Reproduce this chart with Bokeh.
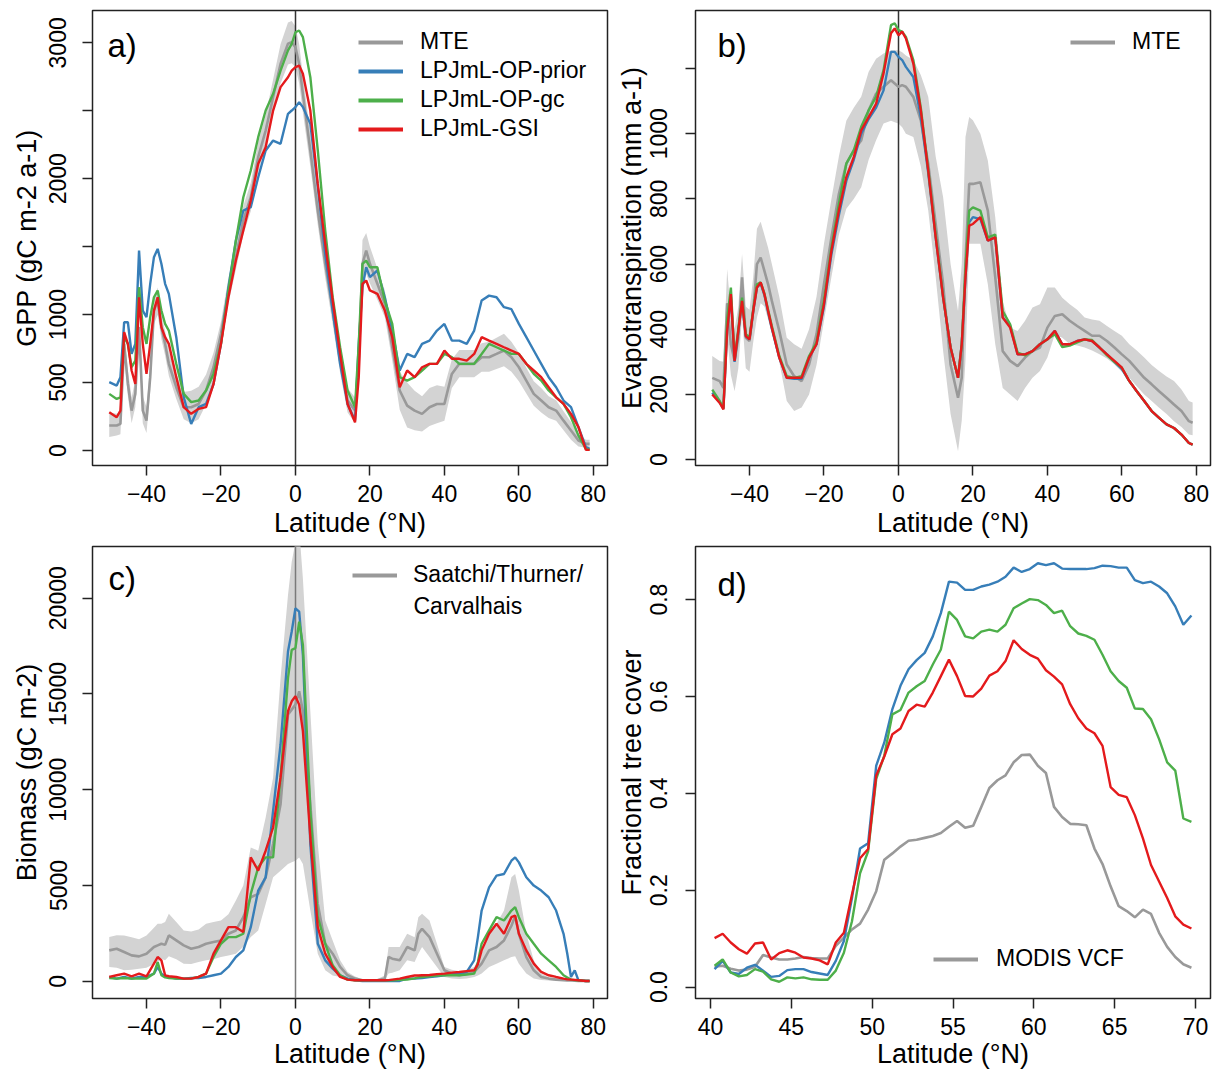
from bokeh.plotting import figure
from bokeh.models import (Range1d, FixedTicker, Legend, LegendItem, Label,
                          ColumnDataSource, PrintfTickFormatter)
from bokeh.layouts import column, row
from bokeh.embed import file_html
from bokeh.resources import INLINE

FONT = "Liberation Sans"
GRAY = "#999999"
BAND = "#d3d3d3"
BLUE = "#377eb8"
GREEN = "#4daf4a"
RED = "#e41a1c"

# ---------------- data: panels a and b (latitude grid) ----------------
LAT_AB = [-50, -48, -47, -46, -45, -44, -43, -42, -41, -40, -39, -38, -37, -36, -35, -34,
          -32, -30, -28, -26, -24, -22, -20, -18, -16, -14, -12, -10, -8, -6, -4, -2, -1,
          0, 1, 2, 4, 6, 8, 10, 12, 14, 16,
          17, 18, 19, 20,
          22, 24, 26, 28, 30, 32, 34, 36, 38, 40, 42, 44, 46, 48, 50, 52, 54, 56, 58, 60,
          62, 64, 66, 68, 70, 72, 74, 76, 78, 79]

GPP_MTE = [184, 184, 196, 785, 490, 294, 417, 908, 294, 220, 540, 1030, 1104, 908, 785, 638,
           466, 319, 319, 343, 442, 613, 858, 1177, 1423, 1693, 1864, 2159, 2355, 2600, 2845, 2993, 3005,
           2968, 2845, 2625, 2208, 1766, 1374, 1030, 662, 368, 294,
           662, 1374, 1472, 1374,
           1227, 1080, 760, 442, 331, 294, 270, 319, 343, 343, 564, 638, 638, 638, 687, 687, 711, 736, 687, 613,
           515, 417, 368, 319, 294, 220, 147, 74, 49, 49]
GPP_LO = [100, 110, 120, 700, 400, 200, 320, 800, 200, 130, 440, 930, 1000, 820, 700, 550,
          380, 230, 200, 230, 340, 520, 770, 1080, 1330, 1590, 1760, 2050, 2240, 2470, 2700, 2840, 2850,
          2820, 2700, 2490, 2090, 1660, 1270, 930, 570, 280, 200,
          560, 1220, 1300, 1230,
          1110, 980, 660, 300, 170, 150, 140, 180, 200, 220, 460, 540, 540, 540, 580, 580, 600, 620, 580, 510,
          420, 330, 280, 240, 220, 150, 80, 30, 20, 20]
GPP_HI = [280, 270, 290, 880, 590, 390, 520, 1010, 400, 320, 640, 1120, 1200, 1000, 880, 730,
          560, 430, 440, 470, 560, 720, 950, 1270, 1520, 1800, 1970, 2270, 2470, 2730, 2990, 3150, 3160,
          3120, 2990, 2760, 2330, 1870, 1480, 1130, 760, 460, 390,
          770, 1550, 1600, 1500,
          1340, 1180, 860, 580, 500, 440, 400, 460, 480, 470, 670, 740, 740, 740, 790, 800, 830, 860, 800, 720,
          610, 510, 460, 400, 370, 290, 210, 120, 80, 80]
GPP_PRIOR = [503, 478, 540, 944, 944, 711, 785, 1472, 1030, 981, 1227, 1423, 1484, 1374, 1227, 1153,
             834, 392, 196, 319, 343, 490, 785, 1202, 1545, 1766, 1791, 2011, 2208, 2281, 2257, 2478, 2502,
             2527, 2564, 2527, 2404, 1938, 1447, 1030, 638, 343, 221,
             785, 1202, 1349, 1276,
             1325, 1128, 883, 589, 711, 687, 785, 809, 883, 932, 809, 809, 785, 883, 1104, 1140, 1128, 1055, 1040, 932,
             834, 736, 638, 540, 466, 368, 319, 172, 25, 12]
GPP_GC = [417, 380, 392, 834, 785, 613, 662, 1202, 908, 785, 981, 1128, 1177, 1030, 932, 883,
          638, 417, 356, 368, 442, 564, 785, 1177, 1545, 1864, 2061, 2306, 2502, 2625, 2796, 2944, 2993,
          3078, 3091, 3042, 2747, 2208, 1619, 1128, 760, 442, 319,
          785, 1374, 1398, 1349,
          1349, 1104, 932, 540, 515, 540, 589, 638, 638, 711, 687, 638, 638, 638, 711, 785, 760, 736, 711, 711,
          638, 564, 515, 442, 392, 343, 245, 110, 12, 5]
GPP_GSI = [282, 245, 294, 871, 785, 589, 490, 1128, 785, 564, 785, 1030, 1128, 908, 834, 785,
           540, 319, 270, 307, 319, 490, 785, 1128, 1398, 1619, 1840, 2110, 2232, 2502, 2674, 2747, 2796,
           2821, 2833, 2772, 2502, 1962, 1521, 1104, 711, 343, 208,
           540, 1227, 1251, 1178,
           1153, 1030, 834, 466, 589, 540, 613, 638, 638, 736, 675, 675, 662, 711, 834, 809, 785, 760, 736, 711,
           638, 589, 540, 466, 392, 343, 270, 172, 5, 5]

ET_MTE = [251, 241, 220, 480, 354, 303, 374, 559, 374, 364, 456, 600, 620, 579, 538, 487,
          395, 292, 256, 241, 292, 385, 538, 682, 815, 908, 949, 979, 1072, 1123, 1144, 1164, 1154,
          1144, 1149, 1144, 1113, 1041, 908, 723, 538, 292, 190,
          251, 610, 846, 846,
          851, 764, 559, 333, 303, 287, 313, 333, 344, 405, 441, 446, 426, 410, 395, 380, 380, 364, 344, 323,
          303, 277, 251, 231, 210, 190, 169, 149, 118, 113]
ET_LO = [200, 180, 170, 380, 260, 210, 280, 440, 280, 270, 360, 436, 480, 470, 430, 390,
         300, 180, 149, 160, 200, 290, 426, 560, 690, 770, 800, 836, 920, 980, 1031, 1040, 1035,
         1031, 1020, 1000, 990, 900, 764, 560, 333, 140, 26,
         120, 303, 662, 662,
         662, 538, 354, 220, 200, 180, 220, 251, 272, 313, 385, 374, 354, 350, 344, 335, 323, 310, 292, 270,
         251, 225, 200, 180, 159, 140, 118, 100, 77, 75]
ET_HI = [318, 303, 300, 585, 450, 400, 470, 631, 470, 460, 560, 708, 730, 690, 650, 600,
         500, 374, 354, 340, 400, 500, 662, 800, 930, 1040, 1080, 1113, 1190, 1230, 1246, 1256, 1256,
         1256, 1250, 1240, 1226, 1180, 1113, 930, 805, 600, 456,
         600, 990, 1051, 1041,
         1000, 918, 744, 487, 405, 395, 426, 467, 477, 528, 528, 497, 477, 460, 436, 430, 426, 410, 395, 380,
         354, 335, 313, 290, 272, 255, 241, 215, 180, 175]
ET_PRIOR = [205, 176, 156, 400, 500, 300, 392, 485, 379, 369, 456, 528, 540, 505, 452, 402,
            313, 251, 248, 248, 313, 354, 470, 630, 750, 855, 920, 1000, 1045, 1080, 1133, 1251, 1251,
            1236, 1226, 1205, 1174, 1051, 880, 682, 497, 344, 251,
            354, 559, 728, 744,
            738, 672, 682, 436, 410, 323, 323, 333, 354, 369, 395, 354, 354, 364, 369, 364, 344, 323, 300, 278,
            241, 210, 180, 149, 128, 108, 97, 77, 51, 46]
ET_GC = [215, 180, 158, 430, 528, 310, 400, 497, 385, 374, 460, 538, 544, 510, 460, 410,
         318, 256, 251, 256, 318, 360, 490, 651, 784, 908, 949, 1021, 1072, 1113, 1195, 1333, 1339,
         1318, 1313, 1297, 1226, 1080, 890, 690, 500, 344, 251,
         354, 590, 764, 774,
         764, 682, 690, 456, 415, 328, 320, 333, 354, 369, 385, 345, 350, 360, 369, 367, 344, 320, 300, 282,
         241, 210, 180, 149, 128, 108, 97, 77, 51, 46]
ET_GSI = [200, 174, 154, 395, 508, 303, 395, 487, 379, 369, 456, 528, 544, 508, 456, 405,
          313, 251, 251, 251, 313, 354, 477, 641, 764, 867, 928, 1010, 1051, 1092, 1185, 1308, 1323,
          1302, 1313, 1292, 1215, 1072, 887, 682, 497, 344, 251,
          354, 559, 718, 723,
          744, 672, 682, 436, 405, 323, 323, 333, 354, 369, 395, 354, 354, 364, 369, 364, 344, 323, 303, 282,
          241, 210, 180, 149, 128, 108, 97, 77, 51, 46]

# ---------------- data: panel c ----------------
LAT_C = [-50, -48, -46, -44, -42, -40, -38, -37, -36, -35, -34,
         -32, -30, -28, -26, -24, -22, -20, -18, -16, -14, -12, -10, -8, -6, -4, -2,
         -1, 0, 1, 2,
         4, 6, 8, 10, 12, 14, 16, 18, 20, 22, 24,
         25, 26, 28, 30, 32, 33,
         34, 36, 38, 40, 42, 44, 46, 48, 49,
         50, 52, 54, 56, 58, 59,
         60, 62, 64, 66, 68, 70, 72, 73, 74, 75, 76, 78, 79]
BIO_OBS = [1613, 1700, 1526, 1350, 1300, 1439, 1786, 1873, 1959, 1900, 2393,
           2133, 1873, 1700, 1786, 1959, 2046, 2133, 2480, 2653, 3347, 4387, 4560, 5427, 7161, 9242, 13924,
           14184, 14444, 15138, 14097,
           9242, 4040, 1959, 1439, 746, 312, 139, 52, 52, 52, 139,
           1266, 1179, 1092, 1786, 1613, 2480,
           2740, 2306, 1439, 572, 399, 312, 399, 486, 700,
           919, 1613, 1786, 2133, 2900, 3400,
           2480, 1266, 572, 225, 139, 87, 52, 40, 40, 30, 20, 20, 20]
BIO_LO = [745, 700, 572, 600, 650, 700, 900, 1000, 1179, 1100, 1300,
          1150, 919, 900, 1000, 1092, 1150, 1266, 1350, 1439, 1800, 2306, 2653, 4040, 5427, 5774, 6121,
          6208, 6294, 6468, 6121,
          3693, 1439, 572, 300, 225, 100, 40, 20, 20, 20, 60,
          399, 450, 572, 1092, 1000, 1439,
          1786, 1266, 746, 225, 150, 120, 150, 225, 300,
          399, 746, 919, 1092, 1266, 1300,
          919, 399, 139, 60, 40, 30, 20, 15, 15, 10, 5, 5, 5]
BIO_HI = [2306, 2400, 2393, 2300, 2200, 2393, 2800, 3000, 3000, 3100, 3520,
          3100, 2653, 2600, 2700, 3000, 3100, 3173, 3500, 4214, 5000, 6988, 6815, 8549, 10629, 15831, 20167,
          21901, 22941, 23634, 21034,
          14097, 7161, 3173, 2133, 1092, 486, 250, 100, 100, 120, 300,
          1786, 1786, 1786, 2480, 2300, 3347,
          3520, 3173, 1959, 746, 600, 520, 600, 746, 1100,
          1439, 2480, 3000, 3693, 5427, 5600,
          4734, 2480, 1092, 399, 200, 150, 100, 80, 80, 60, 50, 40, 40]
BIO_PRIOR = [225, 139, 225, 139, 225, 225, 400, 746, 399, 250, 225,
             139, 139, 173, 173, 225, 312, 399, 746, 1266, 1613, 2826, 4734, 5427, 8895, 12363, 17218,
             18259, 19473, 19300, 17045,
             7161, 1959, 1092, 659, 312, 139, 52, 17, 17, 17, 17,
             17, 17, 17, 139, 139, 150,
             173, 225, 260, 312, 399, 399, 486, 1092, 2306,
             3693, 4907, 5514, 5600, 6294, 6468,
             6208, 5427, 4994, 4734, 4387, 3693, 2480, 1439, 225, 572, 50, 17, 17]
BIO_GC = [173, 139, 173, 139, 150, 139, 399, 1006, 312, 200, 173,
          139, 139, 150, 225, 399, 1266, 1959, 2306, 2306, 2480, 4560, 5948, 6468, 6468, 10629, 15831,
          17305, 17392, 18779, 17565,
          8896, 3347, 1959, 832, 312, 87, 52, 52, 52, 52, 52,
          52, 52, 70, 87, 150, 200,
          225, 260, 295, 312, 312, 312, 350, 399, 1000,
          1959, 2653, 3347, 3173, 3693, 3867,
          3347, 2480, 1959, 1439, 1092, 746, 312, 200, 87, 60, 52, 17, 17]
BIO_GSI = [225, 312, 399, 260, 399, 260, 919, 1266, 1092, 312, 260,
           225, 139, 139, 225, 399, 1439, 2133, 2826, 2826, 2566, 6468, 5774, 6815, 8028, 10629, 14097,
           14617, 14878, 14444, 13057,
           7508, 2826, 1439, 746, 225, 87, 52, 52, 52, 52, 52,
           60, 87, 139, 225, 300, 300,
           312, 330, 370, 399, 450, 486, 530, 572, 900,
           1613, 2480, 3000, 2480, 3347, 3433,
           2480, 1613, 919, 486, 312, 225, 139, 100, 87, 70, 52, 17, 17]

# ---------------- data: panel d ----------------
LAT_D = [40.25, 40.75, 41.25, 41.75, 42.25, 42.75, 43.25, 43.75, 44.25, 44.75,
         45.25, 45.75, 46.25, 46.75, 47.25, 47.75, 48.25, 48.75, 49.25, 49.75,
         50.25, 50.75, 51.25, 51.75, 52.25, 52.75, 53.25, 53.75, 54.25, 54.75,
         55.25, 55.75, 56.25, 56.75, 57.25, 57.75, 58.25, 58.75, 59.25, 59.75,
         60.25, 60.75, 61.25, 61.75, 62.25, 62.75, 63.25, 63.75, 64.25, 64.75,
         65.25, 65.75, 66.25, 66.75, 67.25, 67.75, 68.25, 68.75, 69.25, 69.75]
TC_MODIS = [0.042, 0.044, 0.038, 0.034, 0.036, 0.042, 0.066, 0.061, 0.057, 0.057,
            0.059, 0.062, 0.060, 0.059, 0.059, 0.085, 0.102, 0.119, 0.131, 0.160,
            0.198, 0.263, 0.276, 0.290, 0.302, 0.304, 0.308, 0.312, 0.318, 0.331,
            0.343, 0.329, 0.333, 0.372, 0.411, 0.427, 0.437, 0.464, 0.479, 0.480,
            0.457, 0.442, 0.372, 0.351, 0.337, 0.336, 0.334, 0.286, 0.254, 0.208,
            0.167, 0.157, 0.144, 0.160, 0.151, 0.112, 0.083, 0.062, 0.047, 0.040]
TC_PRIOR = [0.037, 0.054, 0.030, 0.027, 0.040, 0.046, 0.034, 0.021, 0.023, 0.035,
            0.037, 0.037, 0.031, 0.028, 0.025, 0.054, 0.095, 0.184, 0.286, 0.297,
            0.457, 0.505, 0.574, 0.622, 0.656, 0.675, 0.690, 0.724, 0.772, 0.837,
            0.835, 0.820, 0.820, 0.827, 0.831, 0.837, 0.847, 0.866, 0.857, 0.863,
            0.875, 0.871, 0.875, 0.864, 0.863, 0.863, 0.863, 0.865, 0.870, 0.869,
            0.866, 0.866, 0.840, 0.834, 0.837, 0.827, 0.813, 0.786, 0.748, 0.767]
TC_GC = [0.044, 0.057, 0.030, 0.022, 0.025, 0.037, 0.032, 0.016, 0.011, 0.020,
         0.018, 0.020, 0.016, 0.015, 0.015, 0.034, 0.071, 0.136, 0.235, 0.280,
         0.430, 0.478, 0.563, 0.572, 0.608, 0.621, 0.632, 0.666, 0.697, 0.775,
         0.758, 0.724, 0.720, 0.734, 0.738, 0.734, 0.748, 0.782, 0.792, 0.801,
         0.799, 0.789, 0.772, 0.777, 0.745, 0.730, 0.725, 0.717, 0.686, 0.652,
         0.632, 0.618, 0.575, 0.574, 0.553, 0.512, 0.464, 0.447, 0.348, 0.341]
TC_GSI = [0.101, 0.110, 0.092, 0.078, 0.069, 0.090, 0.092, 0.057, 0.070, 0.076,
          0.071, 0.061, 0.059, 0.055, 0.047, 0.092, 0.112, 0.191, 0.266, 0.285,
          0.437, 0.476, 0.522, 0.534, 0.570, 0.583, 0.579, 0.608, 0.642, 0.676,
          0.642, 0.601, 0.600, 0.616, 0.643, 0.652, 0.673, 0.716, 0.698, 0.686,
          0.678, 0.654, 0.641, 0.625, 0.584, 0.555, 0.534, 0.524, 0.498, 0.413,
          0.397, 0.392, 0.355, 0.307, 0.252, 0.218, 0.184, 0.146, 0.129, 0.121]

X_TICKS_WIDE = [-40, -20, 0, 20, 40, 60, 80]
X_TICKS_D = [40, 45, 50, 55, 60, 65, 70]
Y_TICKS_A = [0, 500, 1000, 1500, 2000, 2500, 3000]
Y_TICKS_B = [0, 200, 400, 600, 800, 1000, 1200]
Y_TICKS_C = [0, 5000, 10000, 15000, 20000]
Y_TICKS_D = [0.0, 0.2, 0.4, 0.6, 0.8]
MINUS_LABELS = {-40: "\u221240", -20: "\u221220"}


def base_fig(xr, yr, fh, bl, br, bt, bb, xticks, yticks, xlab, ylab,
             x_std, x_lstd, y_std, y_lstd):
    p = figure(frame_width=515, frame_height=fh,
               x_range=Range1d(*xr), y_range=Range1d(*yr),
               output_backend="svg", toolbar_location=None,
               min_border_left=bl, min_border_right=br,
               min_border_top=bt, min_border_bottom=bb)
    p.xgrid.visible = False
    p.ygrid.visible = False
    p.outline_line_color = "#222222"
    p.outline_line_width = 1.5
    p.background_fill_color = "white"
    p.border_fill_color = "white"
    p.xaxis.ticker = FixedTicker(ticks=xticks)
    p.yaxis.ticker = FixedTicker(ticks=yticks)
    for ax in (p.xaxis[0], p.yaxis[0]):
        ax.axis_line_color = None
        ax.major_tick_out = 10
        ax.major_tick_in = 0
        ax.minor_tick_line_color = None
        ax.major_tick_line_color = "#222222"
        ax.major_tick_line_width = 1.5
        ax.major_label_text_font = FONT
        ax.major_label_text_font_size = "23px"
        ax.major_label_text_color = "black"
        ax.axis_label_text_font = FONT
        ax.axis_label_text_font_size = "27px"
        ax.axis_label_text_font_style = "normal"
        ax.axis_label_text_color = "black"
    p.xaxis.axis_label = xlab
    p.yaxis.axis_label = ylab
    p.xaxis.major_label_standoff = x_std
    p.xaxis.axis_label_standoff = x_lstd
    p.yaxis.major_label_standoff = y_std
    p.yaxis.axis_label_standoff = y_lstd
    p.yaxis.major_label_orientation = "vertical"
    return p


def add_legend(p, items, loc, std):
    # legend keys: one-point lines taken from each series (draw nothing in the
    # plot) so the key can be thicker than the curve itself, as in the original
    entries = []
    for label, xs, ys, color in items:
        key = p.line(x=xs[:1], y=ys[:1], line_color=color, line_width=4)
        entries.append(LegendItem(label=label, renderers=[key]))
    leg = Legend(items=entries,
                 location=loc, orientation="vertical",
                 border_line_color=None, background_fill_alpha=0,
                 label_text_font=FONT, label_text_font_size="23px",
                 label_text_color="black",
                 glyph_width=45, glyph_height=24, label_height=24,
                 label_standoff=std, padding=0, spacing=2, margin=0)
    p.add_layout(leg)


def add_tag(p, text, x, y):
    p.add_layout(Label(x=x, y=y, x_units="screen", y_units="screen", text=text,
                       text_font=FONT, text_font_size="33px", text_color="black",
                       text_baseline="middle", text_align="left"))


def draw_series(p, src, lo, hi, obs, prior, gc, gsi, vcolor):
    if lo is not None:
        p.varea(x="lat", y1=lo, y2=hi, source=src, fill_color=BAND, fill_alpha=1)
    if vcolor is not None:
        p.vspan(x=[0], line_color=vcolor, line_width=1.5)
    p.line("lat", obs, source=src, line_color=GRAY, line_width=2.6)
    p.line("lat", prior, source=src, line_color=BLUE, line_width=2.4)
    p.line("lat", gc, source=src, line_color=GREEN, line_width=2.4)
    p.line("lat", gsi, source=src, line_color=RED, line_width=2.4)


XR = (-54.5, 83.8)

# ---- panel a ----
src_a = ColumnDataSource(dict(lat=LAT_AB, obs=GPP_MTE, lo=GPP_LO, hi=GPP_HI,
                              prior=GPP_PRIOR, gc=GPP_GC, gsi=GPP_GSI))
pa = base_fig(XR, (-110, 3238), 455, 92, 2, 10, 78, X_TICKS_WIDE, Y_TICKS_A,
              "Latitude (\u00b0N)", "GPP (gC m-2 a-1)", 9, 3, 16, 5)
pa.yaxis.major_label_overrides = {1500: "", 2500: ""}
pa.xaxis.major_label_overrides = MINUS_LABELS
draw_series(pa, src_a, "lo", "hi", "obs", "prior", "gc", "gsi", "#333333")
add_legend(pa, [("MTE", LAT_AB, GPP_MTE, GRAY),
                ("LPJmL-OP-prior", LAT_AB, GPP_PRIOR, BLUE),
                ("LPJmL-OP-gc", LAT_AB, GPP_GC, GREEN),
                ("LPJmL-GSI", LAT_AB, GPP_GSI, RED)], (266, 323), 17)
add_tag(pa, "a)", 15, 420)

# ---- panel b ----
src_b = ColumnDataSource(dict(lat=LAT_AB, obs=ET_MTE, lo=ET_LO, hi=ET_HI,
                              prior=ET_PRIOR, gc=ET_GC, gsi=ET_GSI))
pb = base_fig(XR, (-18, 1378), 455, 86, 2, 10, 78, X_TICKS_WIDE, Y_TICKS_B,
              "Latitude (\u00b0N)", "Evapotranspiration (mm a-1)", 9, 3, 18, 1)
pb.yaxis.major_label_overrides = {1200: ""}
pb.xaxis.major_label_overrides = MINUS_LABELS
draw_series(pb, src_b, "lo", "hi", "obs", "prior", "gc", "gsi", "#333333")
add_legend(pb, [("MTE", LAT_AB, ET_MTE, GRAY)], (375, 410), 17)
add_tag(pb, "b)", 22, 420)

# ---- panel c ----
src_c = ColumnDataSource(dict(lat=LAT_C, obs=BIO_OBS, lo=BIO_LO, hi=BIO_HI,
                              prior=BIO_PRIOR, gc=BIO_GC, gsi=BIO_GSI))
pc = base_fig(XR, (-900, 22700), 452, 92, 2, 3, 76, X_TICKS_WIDE, Y_TICKS_C,
              "Latitude (\u00b0N)", "Biomass (gC m-2)", 9, 1, 16, 5)
pc.xaxis.major_label_overrides = MINUS_LABELS
draw_series(pc, src_c, "lo", "hi", "obs", "prior", "gc", "gsi", "#7a7a7a")
add_legend(pc, [("Saatchi/Thurner/", LAT_C, BIO_OBS, GRAY)], (260, 410), 16)
pc.add_layout(Label(x=321, y=393, x_units="screen", y_units="screen", text="Carvalhais",
                    text_font=FONT, text_font_size="23px", text_color="black",
                    text_baseline="middle", text_align="left"))
add_tag(pc, "c)", 16, 420)

# ---- panel d ----
src_d = ColumnDataSource(dict(lat=LAT_D, obs=TC_MODIS, prior=TC_PRIOR, gc=TC_GC, gsi=TC_GSI))
pd_ = base_fig((39.07, 70.93), (-0.0236, 0.9096), 452, 86, 2, 3, 76, X_TICKS_D, Y_TICKS_D,
               "Latitude (\u00b0N)", "Fractional tree cover", 9, 1, 18, 1)
pd_.yaxis.formatter = PrintfTickFormatter(format="%.1f")
draw_series(pd_, src_d, None, None, "obs", "prior", "gc", "gsi", None)
add_legend(pd_, [("MODIS VCF", LAT_D, TC_MODIS, GRAY)], (238, 26), 18)
add_tag(pd_, "d)", 22, 414)

layout = column(row(pa, pb), row(pc, pd_))
open("out.html", "w").write(file_html(layout, INLINE))
